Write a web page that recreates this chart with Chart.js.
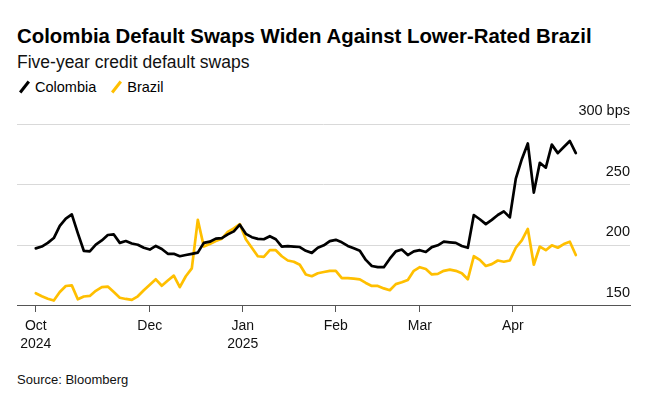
<!DOCTYPE html>
<html>
<head>
<meta charset="utf-8">
<script src="https://cdn.jsdelivr.net/npm/chart.js@4.4.1/dist/chart.umd.min.js"></script>
<style>
  html, body { margin: 0; padding: 0; background: #fff; }
  body { width: 647px; height: 398px; position: relative; overflow: hidden; font-family: "Liberation Sans", Arial, sans-serif; color: #000; }
  .title { position: absolute; left: 17px; top: 25px; font-size: 20.4px; font-weight: bold; white-space: nowrap; }
  .subtitle { position: absolute; left: 17px; top: 52px; font-size: 17.5px; color: #111; white-space: nowrap; }
  .legend { position: absolute; left: 17px; top: 79px; font-size: 14.5px; display: flex; align-items: center; white-space: nowrap; }
  .legend-item { display: flex; align-items: center; margin-right: 13px; }
  .legend-mark { display: inline-block; width: 3px; height: 14px; transform: rotate(38deg); margin: 0 9px 0 6px; }
  .chart-box { position: absolute; left: 0; top: 96px; width: 647px; height: 264px; }
  .source { position: absolute; left: 17px; top: 372px; font-size: 13px; color: #111; white-space: nowrap; }
</style>
</head>
<body>
<div class="title">Colombia Default Swaps Widen Against Lower-Rated Brazil</div>
<div class="subtitle">Five-year credit default swaps</div>
<div class="legend">
  <span class="legend-item"><span class="legend-mark" style="background:#000"></span>Colombia</span>
  <span class="legend-item"><span class="legend-mark" style="background:#ffbf00"></span>Brazil</span>
</div>
<div class="chart-box"><canvas id="chart"></canvas></div>
<div class="source">Source: Bloomberg</div>

<script>
// one point per slot: Oct-Nov ~3 days apart, from Dec 1 every 2 days (to ~Apr 22)
const colombia = [
  197.5, 199, 202, 206, 216, 222, 225.5, 210, 195.5, 195,
  200.5, 204, 208.5, 209, 202, 203.5, 201.5, 200.5, 198, 196.5,
  199.5, 197, 193, 193, 191, 192, 193, 194, 202, 203,
  205.5, 206, 209, 211.5, 217, 209.5, 206.7, 205.3, 205, 207.5,
  205, 199, 199.3, 199, 198.6, 195.5, 193.8, 198, 200, 203.5,
  204.5, 202.5, 199.5, 197.5, 195.5, 188, 183, 182, 182, 189,
  195, 196.5, 192, 195, 196, 194.5, 198.5, 200, 203, 202.5,
  202, 199.5, 198, 225, 221.5, 217.5, 221, 225, 228, 223,
  255, 271, 284, 243.5, 268, 264, 283, 276, 281, 286,
  276
];
const brazil = [
  160.5, 158, 156, 154.5, 161.5, 166.5, 167, 155.5, 157.8, 158.3,
  162.5, 165.5, 166, 161.5, 156.8, 155.8, 155, 158, 163, 167.5,
  172, 166.7, 171, 175, 165.5, 174.5, 181, 221, 199, 201,
  203.5, 205.5, 211, 214, 217.5, 205, 198, 191, 190.5, 196,
  196, 191, 187.5, 186.5, 184, 176, 174.5, 177, 178, 179,
  179, 173, 173, 172.5, 172, 169, 166.5, 166.5, 164.5, 163,
  168, 169.5, 171.5, 179, 182, 180.5, 176, 176.5, 179, 180,
  179, 177, 172, 191, 188, 183, 184.5, 187.5, 186.5, 187.5,
  198, 204, 213.5, 184, 199, 196, 200, 198, 201, 203,
  192
];
// month starts, in slot units
const monthTicks = [0, 19, 34.5, 50, 64, 79.5];
const monthLabels = [['Oct', '2024'], 'Dec', ['Jan', '2025'], 'Feb', 'Mar', 'Apr'];
const yTicks = [150, 200, 250, 300];

const toPoints = (arr) => arr.map((v, i) => ({ x: i, y: v }));

new Chart(document.getElementById('chart'), {
  type: 'line',
  data: {
    datasets: [
      {
        label: 'Colombia',
        data: toPoints(colombia),
        borderColor: '#000',
        borderWidth: 2.7,
        pointRadius: 0,
        tension: 0,
        borderJoinStyle: 'round',
        borderCapStyle: 'round',
        order: 0,
      },
      {
        label: 'Brazil',
        data: toPoints(brazil),
        borderColor: '#ffbf00',
        borderWidth: 2.7,
        pointRadius: 0,
        tension: 0,
        borderJoinStyle: 'round',
        borderCapStyle: 'round',
        order: 1,
      },
    ],
  },
  options: {
    responsive: true,
    maintainAspectRatio: false,
    animation: false,
    layout: { padding: { top: 28, left: 17, right: 17, bottom: 2 } },
    plugins: { legend: { display: false }, tooltip: { enabled: false } },
    scales: {
      x: {
        type: 'linear',
        min: -3.133,
        max: 99.03,
        afterBuildTicks: (axis) => {
          axis.ticks = monthTicks.map((v) => ({ value: v }));
        },
        ticks: {
          autoSkip: false,
          maxRotation: 0,
          padding: 5,
          color: '#111',
          font: { family: '"Liberation Sans", Arial, sans-serif', size: 14, lineHeight: 1.286 },
          callback: (v, i) => monthLabels[i],
        },
        grid: { drawOnChartArea: false, drawTicks: true, tickLength: 6, color: '#555' },
        border: { display: true, color: '#555', width: 1 },
      },
      y: {
        position: 'right',
        min: 150,
        max: 300,
        afterBuildTicks: (axis) => {
          axis.ticks = yTicks.map((v) => ({ value: v }));
        },
        ticks: {
          mirror: true,
          padding: 0,
          labelOffset: -13,
          color: '#111',
          font: { family: '"Liberation Sans", Arial, sans-serif', size: 14.5 },
          callback: (v) => (v === 300 ? '300 bps' : v),
        },
        grid: { color: '#d9d9d9', lineWidth: 1, drawTicks: false },
        border: { display: false },
      },
    },
  },
});
</script>
</body>
</html>
